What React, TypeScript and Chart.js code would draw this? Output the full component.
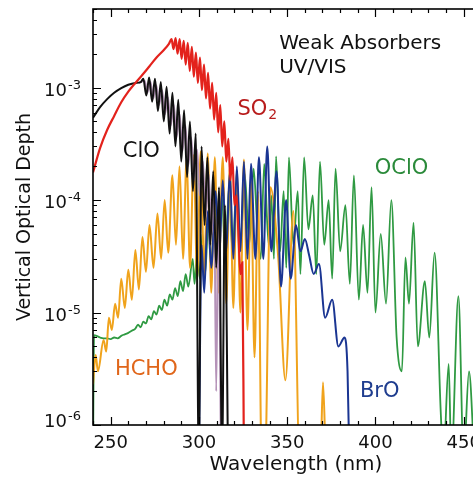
import React, { useEffect, useRef } from "react";
import { Chart, registerables } from "chart.js";

Chart.register(...registerables);

const FONT = '"DejaVu Sans", Verdana, "Liberation Sans", sans-serif';

// ---------- axes ----------
const X_TICKS = [250, 300, 350, 400, 450];
const Y_DECADES = [1e-6, 1e-5, 1e-4, 1e-3];
const Y_EXPONENTS = ["-6", "-5", "-4", "-3"];

// ---------- SO2 ----------
const SO2_WL = [240, 244, 248, 252, 256, 260, 264, 268, 272, 276, 280, 283,
  284.5, 285.6, 286.8, 287.9, 289.1, 290.2, 291.4, 292.5, 293.7, 294.8, 296, 297.1, 298.3, 299.4,
  300.6, 301.7, 302.9, 304, 305.2, 306.3, 307.5, 308.6, 309.8, 310.9, 312.1, 313.2, 314.4, 315.5,
  316.7, 317.8, 319, 320.1, 321.3, 322.5, 323.5, 324.6, 325.5];
const SO2_VAL = [1.76e-4, 2.9e-4, 4.2e-4, 5.6e-4, 7.4e-4, 9.2e-4, 1.1e-3, 1.3e-3, 1.55e-3, 1.85e-3, 2.15e-3, 2.45e-3,
  2.7e-3, 2.2e-3, 2.75e-3, 2.0e-3, 2.7e-3, 1.8e-3, 2.6e-3, 1.6e-3, 2.5e-3, 1.4e-3, 2.3e-3, 1.25e-3, 2.05e-3, 1.1e-3,
  1.85e-3, 9.5e-4, 1.6e-3, 8e-4, 1.35e-3, 6.5e-4, 1.1e-3, 5.2e-4, 9e-4, 4e-4, 7e-4, 3e-4, 5e-4, 2.2e-4,
  3.5e-4, 1.5e-4, 2.4e-4, 9e-5, 1.1e-4, 4.5e-5, 2.2e-5, 2.8e-5, 5e-7];

// ---------- ClO ----------
const CLO_WL = [240, 244, 248, 252, 256, 260, 264, 267,
  268.5, 270.2, 271.8, 273.5, 275.1, 276.8, 278.4, 280.1, 281.7, 283.4, 285, 286.7, 288.3, 290,
  291.6, 293.3, 294.9, 296.6, 298.2, 299.9, 301.5, 303.2, 304.8, 306.5, 308.1, 309.8, 311.4, 313.1,
  314.7, 316.5];
const CLO_VAL = [5.4e-4, 6.7e-4, 7.9e-4, 9e-4, 9.9e-4, 1.06e-3, 1.1e-3, 1.12e-3,
  1.2e-3, 8.5e-4, 1.23e-3, 7.5e-4, 1.2e-3, 6.2e-4, 1.12e-3, 5e-4, 1.02e-3, 3.9e-4, 9e-4, 3e-4,
  7.8e-4, 2.2e-4, 6.3e-4, 1.6e-4, 5e-4, 1.2e-4, 3.9e-4, 5e-7, 3e-4, 6e-5, 2.4e-4, 4e-5, 1.8e-4,
  2.5e-5, 1.3e-4, 5e-7, 9e-5, 5e-7];

// ClO, second (warm) cross section
const CLOB_WL = [266, 269.3, 270.8, 272.6, 274.1, 275.9, 277.4, 279.2, 280.7, 282.5, 284, 285.8, 287.3,
  289.1, 290.6, 292.4, 293.9, 295.7, 297.2, 299, 300.5, 302.3, 303.8, 305.6, 307.1, 308.6, 309.8, 311, 312.5];
const CLOB_VAL = [1.1e-3, 1.15e-3, 9e-4, 1.12e-3, 8e-4, 1.05e-3, 7e-4, 9.5e-4, 5.8e-4, 8.2e-4, 4.6e-4, 7e-4,
  3.6e-4, 5.8e-4, 2.7e-4, 4.6e-4, 2e-4, 3.6e-4, 1.5e-4, 2.8e-4, 1.1e-4, 2.2e-4, 7e-5, 1.7e-4, 5e-5, 1.2e-4,
  2e-6, 8e-5, 5e-7];

// ---------- HCHO ----------
const HCHO_WL = [240, 241.5, 242.8, 246, 247.5, 249, 250.7, 252.5, 254.2, 256, 258, 260, 262, 264, 266, 268,
  270, 272, 274.3, 276.5, 278.6, 280.6, 282.6, 285, 287, 289, 291, 293, 295, 297, 299, 301, 303, 305, 307,
  309, 311, 313.5, 315.5, 317.5, 319.5, 321.5, 323.5, 325.5, 327.5, 329.5, 331.5, 333.5, 335.5, 337.5,
  340.5, 345, 349, 353.5, 357, 368.8, 370.3, 371.8];
const HCHO_VAL = [2.3e-6, 4.2e-6, 3e-6, 5.7e-6, 4.5e-6, 9e-6, 7e-6, 1.2e-5, 9e-6, 2e-5, 1.1e-5, 2.4e-5,
  1.3e-5, 3.6e-5, 1.6e-5, 4.7e-5, 2.3e-5, 6e-5, 2.5e-5, 7.6e-5, 3e-5, 1e-4, 3.4e-5, 1.66e-4, 4e-5, 2e-4,
  3e-5, 2.3e-4, 2.5e-5, 2.5e-4, 2e-5, 2.7e-4, 2e-5, 2.6e-4, 1.5e-5, 2.4e-4, 1.5e-5, 2.4e-4, 1.2e-5, 2e-4,
  1.1e-5, 1.8e-4, 1e-5, 2.3e-4, 7e-6, 1.5e-4, 4e-6, 1.2e-4, 5e-7, 5e-7, 1.3e-4, 3e-5, 2.5e-6, 8e-5, 5e-7,
  5e-7, 2.4e-6, 5e-7];

// ---------- BrO ----------
const BRO_WL = [300, 301.5, 303, 305, 307, 309.5, 311.5, 313.5, 315.5, 317.5, 319.5, 321.5, 323.5, 325.5,
  327.5, 329.5, 332, 334, 336.5, 338.7, 341, 344, 346.5, 349.4, 352, 355, 357.5, 360, 362.5, 365, 368,
  371.5, 375.5, 379, 382.5, 384.2, 385.2];
const BRO_VAL = [5e-7, 4e-5, 1.5e-5, 8e-5, 2.5e-5, 1.2e-4, 3e-5, 1.5e-4, 3.5e-5, 1.8e-4, 3e-5, 2e-4, 3.5e-5,
  2.2e-4, 3e-5, 2.1e-4, 3e-5, 2.4e-4, 3e-5, 3e-4, 3.5e-5, 1.8e-4, 1.7e-5, 1.0e-4, 2e-5, 6e-5, 3.5e-5,
  4.5e-5, 3.2e-5, 2.2e-5, 2.7e-5, 9e-6, 1.3e-5, 5e-6, 6e-6, 3e-6, 5e-7];

// ---------- OClO ----------
const OCLO_WL = [240, 240.6, 242, 244, 246, 248, 250, 252, 254, 256, 258, 260, 262, 264, 265.5, 267, 268.5,
  270, 271.5, 273, 274.5, 276, 277.5, 279, 280.5, 282, 283.5, 285, 286.5, 288, 289.5, 291, 292.5, 294,
  296.5, 297.5, 299, 300.5, 302, 303.5, 305.5, 307, 309, 311, 313, 315, 317, 319, 321.5, 323.5, 326, 328.5,
  331, 333, 335, 337, 339.5, 341, 342.5, 343.7, 346, 348, 349.5, 351, 353.5, 356, 357.5, 359.6, 362, 364.5,
  366.5, 368.6, 371, 373.5, 375.5, 377.4, 380, 383, 385.5, 387.8, 390.6, 393, 395.5, 397.8, 400, 403, 406,
  409, 412, 415, 417, 419, 421.6, 424, 428, 430.5, 433.5, 437, 438.5, 441.5, 443, 447, 450, 453, 456];
const OCLO_VAL = [5e-7, 6.3e-6, 6.2e-6, 6.0e-6, 5.9e-6, 5.9e-6, 5.8e-6, 6.0e-6, 5.9e-6, 6.2e-6,
  6.4e-6, 6.6e-6, 6.9e-6, 7.2e-6, 7.8e-6, 7.4e-6, 8.3e-6, 8e-6, 9.3e-6, 8.7e-6,
  1.03e-5, 9.6e-6, 1.15e-5, 1.05e-5, 1.3e-5, 1.15e-5, 1.45e-5, 1.3e-5, 1.65e-5, 1.4e-5,
  1.9e-5, 1.55e-5, 2.2e-5, 1.7e-5, 3e-5, 1.8e-5, 3.5e-5, 2e-5, 5e-5, 2.2e-5,
  7e-5, 2.5e-5, 9e-5, 2.8e-5, 1.1e-4, 3e-5, 1.3e-4, 3.5e-5, 1.5e-4, 3.8e-5,
  1.7e-4, 4e-5, 1.9e-4, 6e-5, 3e-5, 2.1e-4, 4e-5, 1.1e-4, 3e-5, 2.45e-4,
  3.5e-5, 1.2e-4, 2.5e-5, 2.4e-4, 4e-5, 1.2e-4, 2.2e-5, 2.4e-4, 5.5e-5, 1.1e-4,
  2.2e-5, 2.2e-4, 4e-5, 1e-4, 2e-5, 1.9e-4, 3.5e-5, 9e-5, 1.8e-5, 1.66e-4,
  1.3e-5, 6e-5, 1.5e-5, 1.3e-4, 1e-5, 5e-5, 1.2e-5, 1.0e-4, 6e-6, 3e-6,
  3.1e-5, 1.2e-5, 6.3e-5, 5e-6, 1.9e-5, 6e-6, 3.4e-5, 1.3e-6, 5e-7, 3.5e-6,
  5e-7, 1.4e-5, 5e-7, 3e-6, 5e-7];

const pts = (xs: number[], ys: number[]) => xs.map((x, i) => ({ x, y: ys[i] }));

const ANNOTATIONS = [
  { text: "Weak Absorbers", x: 345.5, y: 2.2e-3, color: "#111111", size: 20 },
  { text: "UV/VIS", x: 345.5, y: 1.34e-3, color: "#111111", size: 20 },
  { text: "ClO", x: 256.9, y: 2.4e-4, color: "#111111", size: 21 },
  { text: "OClO", x: 399.6, y: 1.7e-4, color: "#2a8a3a", size: 21 },
  { text: "HCHO", x: 252.4, y: 2.79e-6, color: "#e0661a", size: 21 },
  { text: "BrO", x: 391.2, y: 1.78e-6, color: "#1f3d8f", size: 21 },
];
const SO2_LABEL = { main: "SO", sub: "2", x: 321.8, y: 5.67e-4, color: "#b81c1c", size: 21 };

const framePlugin = {
  id: "frame",
  afterDatasetsDraw(chart: any) {
    const { ctx, chartArea, scales } = chart;
    const { left, right, top, bottom } = chartArea;
    const xs = scales.x;
    const ys = scales.y;
    ctx.save();
    ctx.strokeStyle = "#000";
    ctx.lineWidth = 1.6;
    ctx.strokeRect(left, top, right - left, bottom - top);
    ctx.lineWidth = 1.2;
    ctx.beginPath();
    for (let v = xs.min; v <= xs.max; v += 10) {
      const px = Math.round(xs.getPixelForValue(v)) + 0.5;
      const len = v % 50 === 0 ? 8 : 4;
      ctx.moveTo(px, bottom);
      ctx.lineTo(px, bottom - len);
      ctx.moveTo(px, top);
      ctx.lineTo(px, top + len);
    }
    for (let d = -6; d <= -3; d++) {
      for (let m = 1; m <= 9; m++) {
        const v = m * Math.pow(10, d);
        if (v < ys.min || v > ys.max) continue;
        const py = Math.round(ys.getPixelForValue(v)) + 0.5;
        const len = m === 1 ? 8 : 4;
        ctx.moveTo(left, py);
        ctx.lineTo(left + len, py);
        ctx.moveTo(right, py);
        ctx.lineTo(right - len, py);
      }
    }
    ctx.stroke();

    // y tick labels 10^n
    ctx.fillStyle = "#111";
    ctx.textBaseline = "alphabetic";
    Y_DECADES.forEach((v, i) => {
      const py = ys.getPixelForValue(v);
      const shift = i === 0 ? -6 : 0;
      ctx.font = `18px ${FONT}`;
      ctx.textAlign = "right";
      ctx.fillText("10", left - 26, py + 8 + shift);
      ctx.font = `13px ${FONT}`;
      ctx.textAlign = "left";
      ctx.fillText(Y_EXPONENTS[i], left - 25, py + 1 + shift);
    });

    // annotations
    ctx.textAlign = "left";
    ANNOTATIONS.forEach((a) => {
      ctx.font = `${a.size}px ${FONT}`;
      ctx.fillStyle = a.color;
      ctx.fillText(a.text, xs.getPixelForValue(a.x), ys.getPixelForValue(a.y));
    });
    const sx = xs.getPixelForValue(SO2_LABEL.x);
    const sy = ys.getPixelForValue(SO2_LABEL.y);
    ctx.fillStyle = SO2_LABEL.color;
    ctx.font = `${SO2_LABEL.size}px ${FONT}`;
    ctx.fillText(SO2_LABEL.main, sx, sy);
    const w = ctx.measureText(SO2_LABEL.main).width;
    ctx.font = `14px ${FONT}`;
    ctx.fillText(SO2_LABEL.sub, sx + w + 1, sy + 4);
    ctx.restore();
  },
};

export default function App() {
  const ref = useRef<HTMLCanvasElement | null>(null);
  useEffect(() => {
    if (!ref.current) return;
    const line = (label: string, xs: number[], ys: number[], color: string, width = 2) => ({
      label,
      data: pts(xs, ys),
      borderColor: color,
      backgroundColor: color,
      borderWidth: width,
      pointRadius: 0,
      fill: false,
      cubicInterpolationMode: "monotone" as const,
    });
    const chart = new Chart(ref.current, {
      type: "line",
      data: {
        datasets: [
          line("SO2", SO2_WL, SO2_VAL, "#e3221c", 2.2),
          line("ClO", CLO_WL, CLO_VAL, "#111111", 2),
          line("ClO (b)", CLOB_WL, CLOB_VAL, "#b592b8", 1.9),
          line("BrO", BRO_WL, BRO_VAL, "#1a3592", 2),
          line("HCHO", HCHO_WL, HCHO_VAL, "#f0a31c", 2),
          line("OClO", OCLO_WL, OCLO_VAL, "#2f9a42", 1.8),
        ],
      },
      options: {
        animation: false,
        responsive: false,
        maintainAspectRatio: false,
        layout: { padding: { left: 0, top: 9, right: 11, bottom: 0 } },
        plugins: { legend: { display: false }, tooltip: { enabled: false } },
        scales: {
          x: {
            type: "linear",
            min: 240,
            max: 470,
            afterBuildTicks: (s: any) => {
              s.ticks = X_TICKS.map((value) => ({ value }));
            },
            afterFit: (s: any) => {
              s.height = 55;
            },
            grid: { display: false, drawTicks: false },
            border: { display: false },
            ticks: {
              font: { family: FONT, size: 18 },
              color: "#111",
              padding: 8,
              maxRotation: 0,
              autoSkip: false,
            },
            title: {
              display: true,
              text: "Wavelength (nm)",
              font: { family: FONT, size: 20 },
              color: "#111",
              padding: { top: 3, bottom: 3 },
            },
          },
          y: {
            type: "logarithmic",
            min: 1e-6,
            max: 5e-3,
            afterFit: (s: any) => {
              s.width = 93;
            },
            grid: { display: false, drawTicks: false },
            border: { display: false },
            ticks: { display: false },
            title: {
              display: true,
              text: "Vertical Optical Depth",
              font: { family: FONT, size: 19 },
              color: "#111",
              padding: { top: 14, bottom: 0 },
            },
          },
        },
      },
      plugins: [framePlugin],
    } as any);
    return () => chart.destroy();
  }, []);

  return (
    <div
      style={{
        position: "fixed",
        left: 0,
        top: 0,
        width: 473,
        height: 480,
        overflow: "hidden",
        background: "#fff",
      }}
    >
      <canvas ref={ref} width={510} height={480} style={{ display: "block" }} />
    </div>
  );
}
